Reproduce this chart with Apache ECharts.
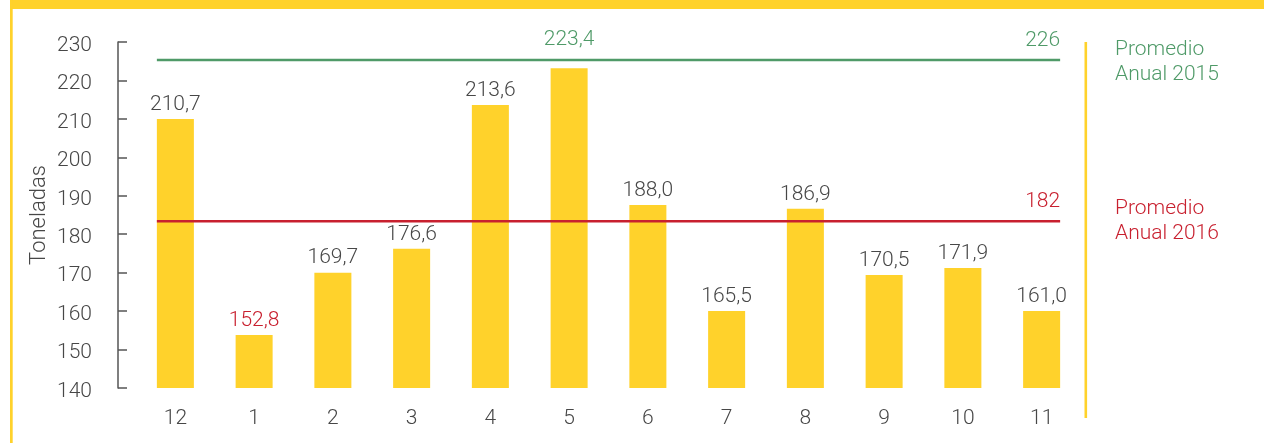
<!DOCTYPE html>
<html>
<head>
<meta charset="utf-8">
<script src="https://cdn.jsdelivr.net/npm/echarts@6/dist/echarts.min.js"></script>
<style>
html,body{margin:0;padding:0;background:#fff;}
#chart{width:1264px;height:443px;}
</style>
</head>
<body>
<div id="chart"></div>
<script>
// Data
const categories = ['12','1','2','3','4','5','6','7','8','9','10','11'];
const barValues = [210.0, 153.8, 170.0, 176.2, 213.6, 223.2, 187.6, 160.0, 186.6, 169.4, 171.2, 160.0];
const barLabels = ['210,7','152,8','169,7','176,6','213,6','223,4','188,0','165,5','186,9','170,5','171,9','161,0'];
const avgValues = [225.3, 183.4];
const avgLabels = ['226', '182'];
const avgNames = ['Promedio\nAnual 2015', 'Promedio\nAnual 2016'];
const yTicks = {min: 140, max: 230, interval: 10};

const YELLOW = '#FFD22B';
const GREEN = '#4F9A68';
const RED = '#C8202F';
const TEXT = '#474747';
const FONT = 'Roboto';
const FS = 21;

const chart = echarts.init(document.getElementById('chart'));

const barData = barValues.map((v, i) => {
  const item = {value: v};
  if (i === 1) item.label = {color: RED};
  if (i === 5) item.label = {color: GREEN, distance: 18};
  return item;
});

const BAR_FRAC = 0.47;

chart.setOption({
  animation: false,
  backgroundColor: '#fff',
  grid: {left: 136, right: 183, top: 42, bottom: 55},
  xAxis: {
    type: 'category',
    data: categories,
    axisLine: {show: false},
    axisTick: {show: false},
    axisLabel: {color: TEXT, fontFamily: FONT, fontWeight: 300, fontSize: FS, margin: 20}
  },
  yAxis: {
    type: 'value',
    min: yTicks.min, max: yTicks.max, interval: yTicks.interval,
    offset: 18,
    name: 'Toneladas',
    nameLocation: 'middle',
    nameGap: 68,
    nameMoveOverlap: false,
    nameTextStyle: {color: TEXT, fontFamily: FONT, fontWeight: 300, fontSize: 22},
    axisLine: {show: true, lineStyle: {color: '#555', width: 1.5}},
    axisTick: {show: true, inside: true, length: 9, lineStyle: {color: '#555', width: 1.5}},
    axisLabel: {
      color: TEXT, fontFamily: FONT, fontWeight: 300, fontSize: FS, margin: 26,
      formatter: '{a|{value}}',
      rich: {a: {color: TEXT, fontFamily: FONT, fontWeight: 300, fontSize: FS, padding: [7, 0, 0, 0]}}
    },
    splitLine: {show: false}
  },
  series: [
    {
      type: 'bar',
      data: barData,
      barWidth: (BAR_FRAC * 100) + '%',
      itemStyle: {color: YELLOW},
      label: {
        show: true,
        position: 'top',
        distance: 4,
        color: TEXT,
        fontFamily: FONT, fontWeight: 300, fontSize: FS,
        formatter: p => barLabels[p.dataIndex]
      }
    },
    {
      type: 'custom',
      data: avgValues.map((v, i) => [i, v]),
      encode: {y: 1},
      z: 5,
      renderItem: function (params, api) {
        const i = params.dataIndex;
        const v = api.value(1);
        const bw = api.size([1, 0])[0] * BAR_FRAC;
        const p0 = api.coord([0, v]);
        const p1 = api.coord([categories.length - 1, v]);
        const color = i === 0 ? GREEN : RED;
        const x0 = p0[0] - bw / 2, x1 = p1[0] + bw / 2, y = p0[1];
        return {
          type: 'group',
          children: [
            {type: 'line', shape: {x1: x0, y1: y, x2: x1, y2: y}, style: {stroke: color, lineWidth: 2.5}},
            {type: 'text', style: {x: x1, y: y - 9, text: avgLabels[i], fill: color, font: '300 ' + FS + 'px ' + FONT, align: 'right', verticalAlign: 'bottom'}}
          ]
        };
      }
    }
  ],
  graphic: [
    {type: 'rect', shape: {x: 10, y: 0, width: 1254, height: 9}, style: {fill: YELLOW}},
    {type: 'rect', shape: {x: 10, y: 0, width: 2.7, height: 443}, style: {fill: YELLOW}},
    {type: 'rect', shape: {x: 1084.5, y: 42, width: 2.6, height: 376}, style: {fill: YELLOW}},
    {type: 'text', style: {x: 1115, y: 37, text: avgNames[0], fill: GREEN, font: '300 ' + FS + 'px ' + FONT, lineHeight: 25, verticalAlign: 'top'}},
    {type: 'text', style: {x: 1115, y: 196, text: avgNames[1], fill: RED, font: '300 ' + FS + 'px ' + FONT, lineHeight: 25, verticalAlign: 'top'}}
  ]
});
</script>
</body>
</html>
